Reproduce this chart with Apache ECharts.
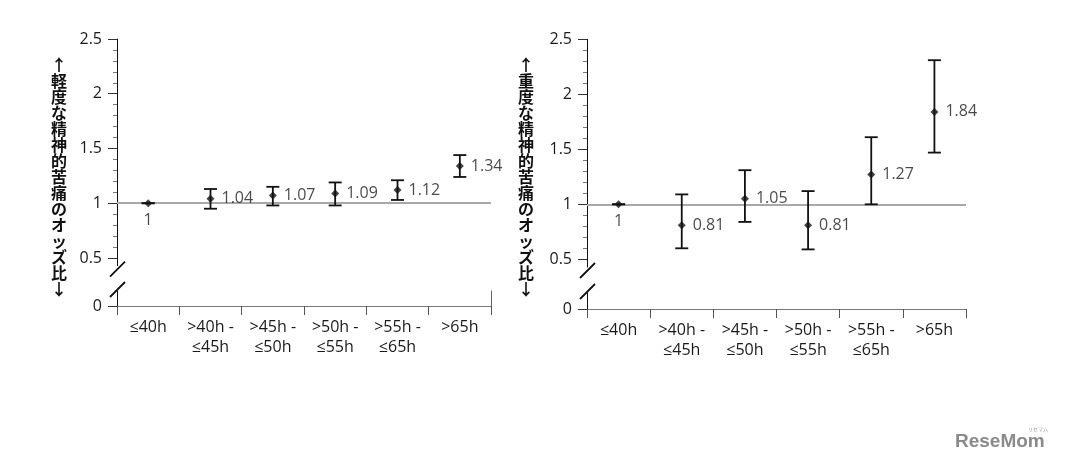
<!DOCTYPE html>
<html><head><meta charset="utf-8">
<script src="https://cdn.jsdelivr.net/npm/echarts@6/dist/echarts.min.js"></script>
<style>html,body{margin:0;padding:0;background:#fff}#c{width:1066px;height:466px}</style>
</head><body><div id="c"></div>
<script>
// ---- data ----
const categories = ['≤40h', '>40h -\n≤45h', '>45h -\n≤50h', '>50h -\n≤55h', '>55h -\n≤65h', '>65h'];
const mildOR   = [1, 1.04, 1.07, 1.09, 1.12, 1.34];
const mildLow  = [1, 0.95, 0.98, 0.98, 1.03, 1.24];
const mildHigh = [1, 1.13, 1.15, 1.19, 1.21, 1.44];
const severeOR   = [1, 0.81, 1.05, 0.81, 1.27, 1.84];
const severeLow  = [1, 0.60, 0.84, 0.59, 1.00, 1.47];
const severeHigh = [1, 1.09, 1.31, 1.12, 1.61, 2.31];
const yMajorTicks = [0.5, 1, 1.5, 2, 2.5];
const yMinorTicks = [0.6, 0.7, 0.8, 0.9, 1.1, 1.2, 1.3, 1.4, 1.6, 1.7, 1.8, 1.9, 2.1, 2.2, 2.3, 2.4];
const yZeroTick = [0];
const referenceValue = 1;
const mildTitle = '↑軽度な精神的苦痛のオッズ比↓';
const severeTitle = '↑重度な精神的苦痛のオッズ比↓';
const watermark = 'ReseMom';
const watermarkSmall = 'リセマム';

// ---- layout ----
const FONT = "'Open Sans', 'Noto Sans CJK JP', sans-serif";
const TXT = '#1a1a1a';
const Y_MIN = 0.43, Y_MAX = 2.5, LOW_MAX = 0.2;
const panels = [
  {axisX:117, right:491, top:39, unit:109.5, baseY:306, lowTop:291, or:mildOR, lo:mildLow, hi:mildHigh, title:mildTitle, titleX:59, rightEdge:true},
  {axisX:587, right:966, top:39.3, unit:110, baseY:309, lowTop:293, or:severeOR, lo:severeLow, hi:severeHigh, title:severeTitle, titleX:526, rightEdge:false}
];

const option = {animation:false, grid:[], xAxis:[], yAxis:[], series:[], graphic:[]};
const lineSt = {stroke:'#111', lineWidth:1.8};

panels.forEach(p => {
  const gMain = option.grid.length;
  const mainH = (Y_MAX - Y_MIN) * p.unit;
  option.grid.push({left:p.axisX, top:p.top, width:p.right - p.axisX, height:mainH});
  const gLow = option.grid.length;
  option.grid.push({left:p.axisX, top:p.lowTop, width:p.right - p.axisX, height:p.baseY - p.lowTop});

  const xMain = option.xAxis.length;
  option.xAxis.push({type:'category', gridIndex:gMain, data:categories, show:false});
  option.xAxis.push({type:'category', gridIndex:gLow, data:categories, boundaryGap:true,
    axisLine:{show:true, lineStyle:{color:'#777', width:1}},
    axisTick:{show:true, length:9, interval:0, lineStyle:{color:'#555'}},
    axisLabel:{fontSize:16, color:TXT, lineHeight:20, margin:11, fontFamily:FONT, interval:0}});

  const yMain = option.yAxis.length;
  option.yAxis.push({type:'value', gridIndex:gMain, position:'left', min:Y_MIN, max:Y_MAX, splitLine:{show:false},
    axisLine:{show:true, lineStyle:{color:'#111', width:1}},
    axisTick:{show:true, length:9, customValues:yMajorTicks, lineStyle:{color:'#333'}},
    axisLabel:{customValues:yMajorTicks, fontSize:16, color:TXT, margin:15, fontFamily:FONT}});
  option.yAxis.push({type:'value', gridIndex:gMain, position:'left', min:Y_MIN, max:Y_MAX, splitLine:{show:false},
    axisLine:{show:false},
    axisTick:{show:true, length:4, customValues:yMinorTicks, lineStyle:{color:'#777'}},
    axisLabel:{show:false}});
  option.yAxis.push({type:'value', gridIndex:gLow, position:'left', min:0, max:LOW_MAX, splitLine:{show:false},
    axisLine:{show:true, lineStyle:{color:'#111', width:1}},
    axisTick:{show:true, length:9, customValues:yZeroTick, lineStyle:{color:'#333'}},
    axisLabel:{customValues:yZeroTick, fontSize:16, color:TXT, margin:15, fontFamily:FONT}});
  if (p.rightEdge) {
    option.yAxis.push({type:'value', gridIndex:gLow, position:'right', min:0, max:LOW_MAX, splitLine:{show:false},
      axisLine:{show:true, lineStyle:{color:'#666', width:1}}, axisTick:{show:false}, axisLabel:{show:false}});
  }

  option.series.push({
    type:'custom', xAxisIndex:xMain, yAxisIndex:yMain, z:3,
    data:p.or.map((v, i) => [i, p.lo[i], p.hi[i]]),
    renderItem:(params, api) => {
      const t = api.coord([api.value(0), api.value(2)]);
      const b = api.coord([api.value(0), api.value(1)]);
      const w = 6.5;
      return {type:'group', children:[
        {type:'line', shape:{x1:t[0], y1:t[1], x2:b[0], y2:b[1]}, style:lineSt},
        {type:'line', shape:{x1:t[0]-w, y1:t[1], x2:t[0]+w, y2:t[1]}, style:lineSt},
        {type:'line', shape:{x1:b[0]-w, y1:b[1], x2:b[0]+w, y2:b[1]}, style:lineSt}
      ]};
    }
  });
  option.series.push({
    type:'scatter', xAxisIndex:xMain, yAxisIndex:yMain, z:4,
    symbol:'diamond', symbolSize:8, itemStyle:{color:'#111'},
    data:p.or.map((v, i) => i === 0 ? {value:v, label:{position:'bottom', distance:5}} : v),
    label:{show:true, position:'right', distance:7, fontSize:16, color:TXT, fontFamily:FONT,
      formatter:d => String(p.or[d.dataIndex])},
    markLine:{silent:true, symbol:'none', label:{show:false}, z:1,
      lineStyle:{color:'#a8a8a8', width:2, type:'solid'}, data:[{yAxis:referenceValue}]}
  });

  // vertical axis name
  option.graphic.push({type:'text', x:p.titleX, y:57, style:{
    text:p.title.split('').join('\n'), font:'bold 16px "Noto Sans CJK JP"', fill:'#111',
    textAlign:'center', verticalAlign:'top', lineHeight:16}});
  // axis break marks
  const mb = p.top + mainH;
  option.graphic.push({type:'line', shape:{x1:p.axisX-7, y1:mb+11, x2:p.axisX+8, y2:mb-4}, style:lineSt});
  option.graphic.push({type:'line', shape:{x1:p.axisX-7, y1:p.lowTop+6, x2:p.axisX+8, y2:p.lowTop-9}, style:lineSt});
});

option.graphic.push({type:'text', x:955, y:432, style:{text:watermark, font:'bold 19px "Liberation Sans"', fill:'#8a8a8a'}});
option.graphic.push({type:'text', x:1028, y:427, style:{text:watermarkSmall, font:'5px "Noto Sans CJK JP"', fill:'#999'}});

const chart = echarts.init(document.getElementById('c'), null, {renderer:'canvas'});
chart.setOption(option);
</script>
</body></html>
